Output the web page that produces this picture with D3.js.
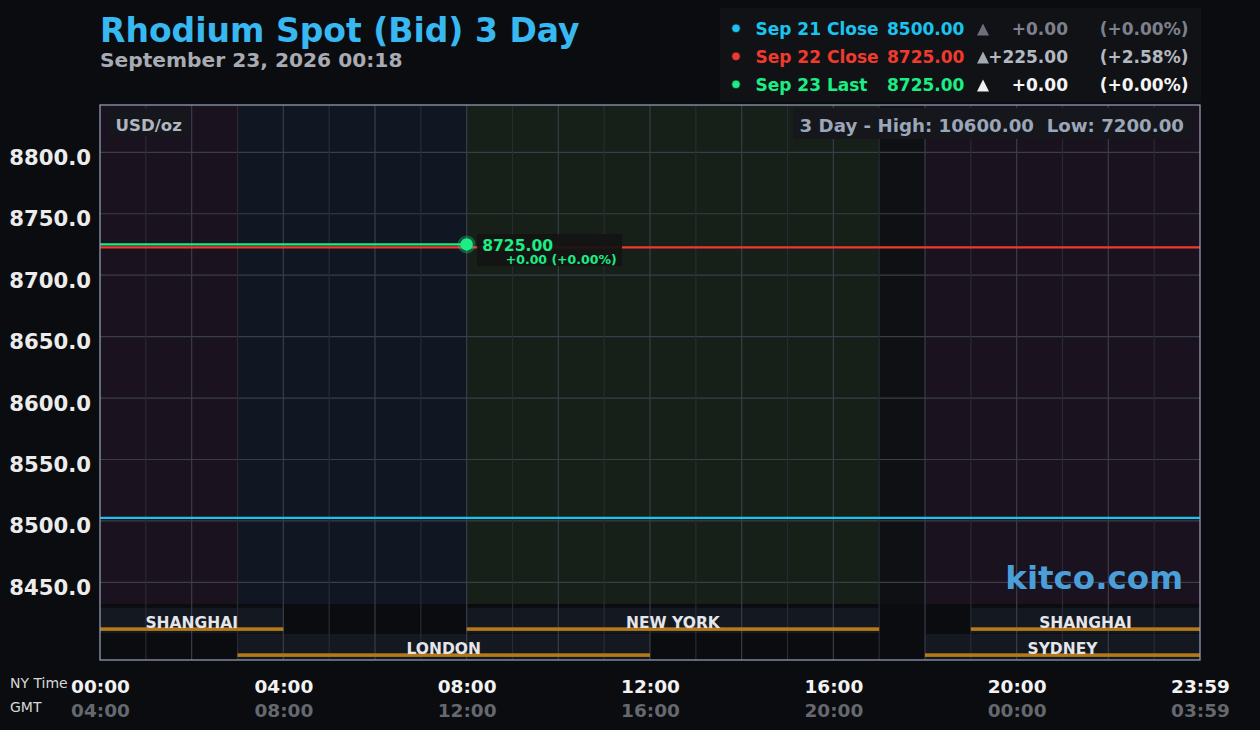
<!doctype html>
<html>
<head>
<meta charset="utf-8">
<title>Rhodium Spot (Bid) 3 Day</title>
<script src="https://cdn.jsdelivr.net/npm/d3@7"></script>
<style>
  html, body { margin: 0; padding: 0; background: #0b0c0f; }
  svg text { font-family: "DejaVu Sans", sans-serif; }
</style>
</head>
<body>
<script>
// ---- data ----
var hourTicks = [0, 4, 8, 12, 16, 20, 24];
var nyLabels = ["00:00", "04:00", "08:00", "12:00", "16:00", "20:00", "23:59"];
var gmtLabels = ["04:00", "08:00", "12:00", "16:00", "20:00", "00:00", "03:59"];
var priceTicks = [8450, 8500, 8550, 8600, 8650, 8700, 8750, 8800];

var seriesNames = ["Sep 21 Close", "Sep 22 Close", "Sep 23 Last"];
var seriesHours = [[0, 24], [0, 24], [0, 8]];
var seriesValues = [[8500, 8500], [8725, 8725], [8725, 8725]];
var seriesChange = ["+0.00", "+225.00", "+0.00"];
var seriesPct = ["(+0.00%)", "(+2.58%)", "(+0.00%)"];

var bandStart = [0, 3, 8, 17, 18];
var bandEnd = [3, 8, 17, 18, 24];

var sessionNames = ["SHANGHAI", "LONDON", "NEW YORK", "SYDNEY", "SHANGHAI"];
var sessionStart = [0, 3, 8, 18, 19];
var sessionEnd = [4, 12, 17, 24, 24];
var sessionRow = [0, 1, 0, 1, 0];

var highLow = "3 Day - High: 10600.00  Low: 7200.00";

// ---- styles ----
var seriesColors = ["#1ac4ef", "#f03a2e", "#1aee84"];
var seriesShift = [-3, 3, 0];
var triColors = ["#6b707c", "#a4a9b3", "#f0f0f0"];
var chgColors = ["#7d818b", "#b4b8c0", "#f5f5f5"];
var bandColors = ["#1a121f", "#111722", "#161f18", "#0f1013", "#1a121f"];

var W = 1260, H = 730;
var pLeft = 100, pRight = 1200, pTop = 105, pBottom = 660, priceBottom = 604;

var svg = d3.select("body").append("svg").attr("width", W).attr("height", H);
svg.append("rect").attr("width", W).attr("height", H).attr("fill", "#0b0c0f");

var x = d3.scaleLinear().domain([0, 24]).range([pLeft, pRight]);
var y = d3.scaleLinear().domain([8386.8, 8838.5]).range([pBottom, pTop]);

// title
svg.append("text").attr("x", 100).attr("y", 41.5)
    .attr("fill", "#38b8f0").attr("font-size", 33).attr("font-weight", "bold")
    .text("Rhodium Spot (Bid) 3 Day");
svg.append("text").attr("x", 100).attr("y", 67)
    .attr("fill", "#a8abb3").attr("font-size", 20.2).attr("font-weight", "bold")
    .text("September 23, 2026 00:18");

// legend
var lg = svg.append("g");
lg.append("rect").attr("x", 720).attr("y", 8).attr("width", 481).attr("height", 94).attr("fill", "#111216");
seriesNames.forEach(function(name, i) {
    var cy = 28.3 + i * 28;
    lg.append("circle").attr("cx", 736).attr("cy", cy).attr("r", 4.5).attr("fill", seriesColors[i]).attr("opacity", 0.35);
    lg.append("circle").attr("cx", 736).attr("cy", cy).attr("r", 3.6).attr("fill", seriesColors[i]);
    lg.append("text").attr("x", 755.5).attr("y", cy + 6.2)
        .attr("fill", seriesColors[i]).attr("font-size", 17).attr("font-weight", "bold").text(name);
    lg.append("text").attr("x", 887).attr("y", cy + 6.2)
        .attr("fill", seriesColors[i]).attr("font-size", 17).attr("font-weight", "bold")
        .text(d3.format(".2f")(seriesValues[i][seriesValues[i].length - 1]));
    lg.append("path").attr("d", "M0,-6L6,6L-6,6Z")
        .attr("transform", "translate(983," + (cy + 1.2) + ")").attr("fill", triColors[i]);
    lg.append("text").attr("x", 1068).attr("y", cy + 6.2).attr("text-anchor", "end")
        .attr("fill", chgColors[i]).attr("font-size", 17).attr("font-weight", "bold").text(seriesChange[i]);
    lg.append("text").attr("x", 1188.5).attr("y", cy + 6.2).attr("text-anchor", "end")
        .attr("fill", chgColors[i]).attr("font-size", 17).attr("font-weight", "bold").text(seriesPct[i]);
});

// background bands
svg.append("g").selectAll("rect").data(bandStart).enter().append("rect")
    .attr("x", function(d) { return x(d); })
    .attr("width", function(d, i) { return x(bandEnd[i]) - x(d); })
    .attr("y", pTop).attr("height", priceBottom - pTop)
    .attr("fill", function(d, i) { return bandColors[i]; });

// session area
svg.append("rect").attr("x", pLeft).attr("y", priceBottom).attr("width", pRight - pLeft)
    .attr("height", pBottom - priceBottom).attr("fill", "#0b0c0f");
var rowTop = [607.7, 634];
var rowH = [25.5, 26];
svg.append("g").selectAll("rect").data(sessionNames).enter().append("rect")
    .attr("x", function(d, i) { return x(sessionStart[i]); })
    .attr("width", function(d, i) { return x(sessionEnd[i]) - x(sessionStart[i]); })
    .attr("y", function(d, i) { return rowTop[sessionRow[i]]; })
    .attr("height", function(d, i) { return rowH[sessionRow[i]]; })
    .attr("fill", "#141821");

// grid
svg.append("g").selectAll("line").data(priceTicks).enter().append("line")
    .attr("x1", pLeft).attr("x2", pRight)
    .attr("y1", function(d) { return y(d); }).attr("y2", function(d) { return y(d); })
    .attr("stroke", "#3b3e49").attr("stroke-width", 1.2);
svg.append("g").selectAll("line").data(d3.range(1, 24)).enter().append("line")
    .attr("x1", function(d) { return x(d); }).attr("x2", function(d) { return x(d); })
    .attr("y1", pTop).attr("y2", pBottom)
    .attr("stroke", function(d) { return d % 2 === 0 ? "#3a3d48" : "#2a2a33"; })
    .attr("stroke-width", 1.2);

// session underline + labels
var underY = [627.3, 653.3];
svg.append("g").selectAll("rect").data(sessionNames).enter().append("rect")
    .attr("x", function(d, i) { return x(sessionStart[i]); })
    .attr("width", function(d, i) { return x(sessionEnd[i]) - x(sessionStart[i]); })
    .attr("y", function(d, i) { return underY[sessionRow[i]]; })
    .attr("height", 3.6).attr("fill", "#b5791a");
svg.append("g").selectAll("text").data(sessionNames).enter().append("text")
    .attr("x", function(d, i) { return (x(sessionStart[i]) + x(sessionEnd[i])) / 2; })
    .attr("y", function(d, i) { return underY[sessionRow[i]] + 0.3; })
    .attr("text-anchor", "middle").attr("fill", "#e4e6ea")
    .attr("font-size", 15.5).attr("font-weight", "bold")
    .text(function(d) { return d; });

// info boxes
svg.append("rect").attr("x", 108.5).attr("y", 109).attr("width", 81.5).attr("height", 27).attr("fill", "#16171d");
svg.append("text").attr("x", 115.5).attr("y", 131).attr("fill", "#b0b5c0")
    .attr("font-size", 16.6).attr("font-weight", "bold").text("USD/oz");
svg.append("rect").attr("x", 793).attr("y", 108).attr("width", 399).attr("height", 31).attr("fill", "#15171c");
svg.append("text").attr("x", 1184).attr("y", 132.3).attr("text-anchor", "end")
    .attr("fill", "#9ba6b8").attr("font-size", 18.2).attr("font-weight", "bold")
    .style("white-space", "pre").text(highLow);

// watermark
svg.append("text").attr("x", 1183).attr("y", 589).attr("text-anchor", "end")
    .attr("fill", "#4a9fd9").attr("font-size", 32.5).attr("font-weight", "bold").text("kitco.com");

// series lines
var line = d3.line().x(function(d) { return x(d[0]); }).y(function(d) { return y(d[1]); });
seriesNames.forEach(function(name, i) {
    var pts = seriesHours[i].map(function(h, j) { return [h, seriesValues[i][j]]; });
    svg.append("path").attr("d", line(pts))
        .attr("transform", "translate(0," + seriesShift[i] + ")")
        .attr("fill", "none").attr("stroke", seriesColors[i]).attr("stroke-width", 2.2);
});

// last point marker + label
var lastH = seriesHours[2][1], lastV = seriesValues[2][1];
svg.append("circle").attr("cx", x(lastH)).attr("cy", y(lastV)).attr("r", 9)
    .attr("fill", "#1aee84").attr("opacity", 0.3);
svg.append("circle").attr("cx", x(lastH)).attr("cy", y(lastV)).attr("r", 6.2).attr("fill", "#1aee84");
svg.append("rect").attr("x", x(lastH) + 10.4).attr("y", y(lastV) - 10.4).attr("width", 145).attr("height", 32)
    .attr("fill", "#141414").attr("opacity", 0.92);
svg.append("text").attr("x", x(lastH) + 15.5).attr("y", y(lastV) + 6.2)
    .attr("fill", "#1aee84").attr("font-size", 15.6).attr("font-weight", "bold")
    .text(d3.format(".2f")(lastV));
svg.append("text").attr("x", x(lastH) + 150).attr("y", y(lastV) + 19.5)
    .attr("text-anchor", "end").attr("fill", "#1aee84").attr("font-size", 12.5).attr("font-weight", "bold")
    .text(seriesChange[2] + " " + seriesPct[2]);

// plot border
svg.append("rect").attr("x", pLeft).attr("y", pTop).attr("width", pRight - pLeft).attr("height", pBottom - pTop)
    .attr("fill", "none").attr("stroke", "#9aa6c0").attr("stroke-width", 1.2);

// y axis
var yAxis = svg.append("g").attr("transform", "translate(" + pLeft + ",0)")
    .call(d3.axisLeft(y).tickValues(priceTicks).tickFormat(d3.format(".1f")).tickSize(0).tickPadding(9));
yAxis.select(".domain").remove();
yAxis.selectAll("text").attr("dy", 12).attr("fill", "#ececec")
    .attr("font-size", 21.2).attr("font-weight", "bold").attr("font-family", "DejaVu Sans");

// x axes (NY time / GMT)
var xAxisNY = svg.append("g").attr("transform", "translate(0," + pBottom + ")")
    .call(d3.axisBottom(x).tickValues(hourTicks).tickFormat(function(d, i) { return nyLabels[i]; }).tickSize(0));
xAxisNY.select(".domain").remove();
xAxisNY.selectAll("text").attr("y", 32.7).attr("dy", 0).attr("fill", "#f2f2f2")
    .attr("font-size", 18.5).attr("font-weight", "bold").attr("font-family", "DejaVu Sans");

var xAxisGMT = svg.append("g").attr("transform", "translate(0," + pBottom + ")")
    .call(d3.axisBottom(x).tickValues(hourTicks).tickFormat(function(d, i) { return gmtLabels[i]; }).tickSize(0));
xAxisGMT.select(".domain").remove();
xAxisGMT.selectAll("text").attr("y", 57.2).attr("dy", 0).attr("fill", "#65686e")
    .attr("font-size", 18.5).attr("font-weight", "bold").attr("font-family", "DejaVu Sans");

svg.append("text").attr("x", 10).attr("y", 688.3).attr("fill", "#d8d8d8").attr("font-size", 14).text("NY Time");
svg.append("text").attr("x", 10).attr("y", 712.3).attr("fill", "#d8d8d8").attr("font-size", 14).text("GMT");
</script>
</body>
</html>
